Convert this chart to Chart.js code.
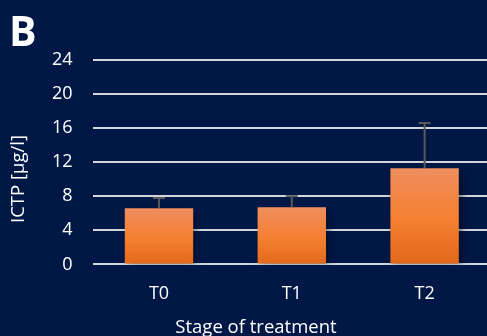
<!DOCTYPE html>
<html>
<head>
<meta charset="utf-8">
<script src="https://cdn.jsdelivr.net/npm/chart.js@4.4.1/dist/chart.umd.min.js"></script>
<style>
  html, body { margin: 0; padding: 0; background: #011847; overflow: hidden; }
  #wrap { position: relative; width: 491px; height: 336px; }
  .lbl { position: absolute; color: #ffffff; font-family: "Open Sans", sans-serif;
         white-space: nowrap; line-height: 1; }
  #panel { left: 9px; top: 10px; font-size: 41px; font-weight: bold; }
  #xTitle { left: 256px; top: 326px; font-size: 18.5px; transform: translate(-50%, -50%); }
  #yTitle { left: 17px; top: 179px; font-size: 18.5px; transform: translate(-50%, -50%) rotate(-90deg); }
</style>
</head>
<body>
<div id="wrap">
  <canvas id="c" width="491" height="336"></canvas>
  <div class="lbl" id="panel">B</div>
  <div class="lbl" id="yTitle">ICTP [µg/l]</div>
  <div class="lbl" id="xTitle">Stage of treatment</div>
</div>
<script>
// ICTP concentration per stage of treatment (mean and upper error)
const stages = ['T0', 'T1', 'T2'];
const ictpMean = [6.6, 6.7, 11.3];
const ictpError = [1.2, 1.3, 5.3];
const yTicks = [0, 4, 8, 12, 16, 20, 24];

const FONT = '"Open Sans", sans-serif';

// Vertical orange gradient spanning each bar from its top to the baseline
function barGradient(ctx) {
  const chart = ctx.chart;
  if (!chart.chartArea || ctx.dataIndex === undefined) return '#f27f30';
  const y = chart.scales.y;
  const top = y.getPixelForValue(ctx.raw);
  const base = y.getPixelForValue(0);
  const g = chart.ctx.createLinearGradient(0, top, 0, base);
  g.addColorStop(0, '#f08e5f');
  g.addColorStop(0.55, '#f47f2f');
  g.addColorStop(1, '#e2681c');
  return g;
}

// Soft drop shadow behind the bars
const barShadow = {
  id: 'barShadow',
  beforeDatasetsDraw(chart) {
    const c = chart.ctx;
    c.save();
    c.shadowColor = 'rgba(0,0,0,0.45)';
    c.shadowBlur = 7;
    c.shadowOffsetX = 3;
    c.shadowOffsetY = 3;
  },
  afterDatasetsDraw(chart) {
    chart.ctx.restore();
  }
};

// Upper error whiskers with a cap
const errorBars = {
  id: 'errorBars',
  afterDatasetsDraw(chart) {
    const c = chart.ctx;
    const meta = chart.getDatasetMeta(0);
    const y = chart.scales.y;
    c.save();
    c.strokeStyle = '#595959';
    c.lineWidth = 2;
    meta.data.forEach((bar, i) => {
      const x = bar.x;
      const yTop = y.getPixelForValue(ictpMean[i] + ictpError[i]);
      const yBar = y.getPixelForValue(ictpMean[i]);
      c.beginPath();
      c.moveTo(x, yBar);
      c.lineTo(x, yTop);
      c.moveTo(x - 6, yTop);
      c.lineTo(x + 6, yTop);
      c.stroke();
    });
    c.restore();
  }
};

new Chart(document.getElementById('c'), {
  type: 'bar',
  data: {
    labels: stages,
    datasets: [{
      data: ictpMean,
      backgroundColor: barGradient,
      borderWidth: 0,
      categoryPercentage: 1,
      barPercentage: 0.515
    }]
  },
  options: {
    responsive: false,
    animation: false,
    layout: { padding: { left: 32, right: 0, top: 60, bottom: 12 } },
    plugins: {
      legend: { display: false },
      tooltip: { enabled: false }
    },
    scales: {
      x: {
        offset: true,
        border: { display: false },
        grid: { display: false, drawTicks: false },
        ticks: { color: '#ffffff', font: { family: FONT, size: 18 }, padding: 19 }
      },
      y: {
        min: 0,
        max: 24,
        afterBuildTicks(axis) { axis.ticks = yTicks.map(v => ({ value: v })); },
        border: { display: false },
        grid: { color: '#d3d5da', lineWidth: 2, drawTicks: false },
        ticks: { color: '#ffffff', font: { family: FONT, size: 18 }, padding: 20 }
      }
    }
  },
  plugins: [barShadow, errorBars]
});
</script>
</body>
</html>
